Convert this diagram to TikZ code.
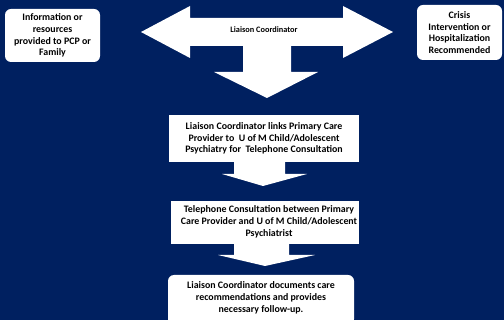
\documentclass[tikz,border=0pt]{standalone}
\usepackage{fontspec}
\setmainfont{Carlito}
\usepackage{xcolor}
\usetikzlibrary{calc}

\definecolor{navy}{RGB}{0,32,96}

\tikzset{
  boxtext/.style={align=center,font=\bfseries\fontsize{9.9}{11.8}\selectfont,text=black,inner sep=0pt},
  roundbox/.style={fill=white,rounded corners=6pt,inner sep=0pt},
  flatbox/.style={fill=white,inner sep=0pt},
  blockarrow/.style={fill=white}
}

\begin{document}
\begin{tikzpicture}[x=1pt,y=-1pt]
% Background
\fill[navy] (0,0) rectangle (504,320);
\useasboundingbox (0,0) rectangle (504,320);

% Side outcomes
\node[roundbox,minimum width=95,minimum height=53] (info) at (52.5,35.5) {};
\node[boxtext] (infotxt) at (info) {Information or\\resources\\provided to PCP or\\Family};
\node[roundbox,minimum width=85,minimum height=55] (crisis) at (459.5,32.5) {};
\node[boxtext] (crisistxt) at (crisis) {Crisis\\Intervention or\\Hospitalization\\Recommended};

% Liaison coordinator T arrow
\fill[blockarrow] (141,32) -- (190,6) -- (190,18) -- (343,18) -- (343,6) -- (393,32)
  -- (343,58) -- (343,46) -- (291,46) -- (291,72) -- (318,72) -- (267,98)
  -- (214,72) -- (243,72) -- (243,46) -- (190,46) -- (190,58) -- cycle;
\node[boxtext,font=\bfseries\fontsize{8.3}{10}\selectfont] (liaison) at (264,30) {Liaison Coordinator};

% Step 1: links PCP to psychiatry
\node[flatbox,minimum width=190,minimum height=47] (links) at (264,138.5) {};
\node[boxtext] (linkstxt) at (links) {Liaison Coordinator links Primary Care\\Provider to~ U of M Child/Adolescent\\Psychiatry for~ Telephone Consultation};

% Arrow to consultation
\fill[blockarrow] (234,162) -- (285,162) -- (285,174) -- (307,174) -- (263,186)
  -- (222,174) -- (234,174) -- cycle;

% Step 2: telephone consultation
\node[flatbox,minimum width=188,minimum height=43] (consult) at (265,222.5) {};
\node[boxtext] (consulttxt) at ($(consult)+(4,-1)$) {Telephone Consultation between Primary\\Care Provider and U of M Child/Adolescent\\Psychiatrist};

% Arrow to follow-up
\fill[blockarrow] (234,244) -- (289,244) -- (289,255) -- (315,255) -- (265,266)
  -- (218,255) -- (234,255) -- cycle;

% Step 3: documentation and follow-up
\node[roundbox,minimum width=186,minimum height=50] (followup) at (261,300) {};
\node[boxtext] (followuptxt) at (261,298) {Liaison Coordinator documents care\\recommendations and provides\\necessary follow-up.};
\end{tikzpicture}
\end{document}
